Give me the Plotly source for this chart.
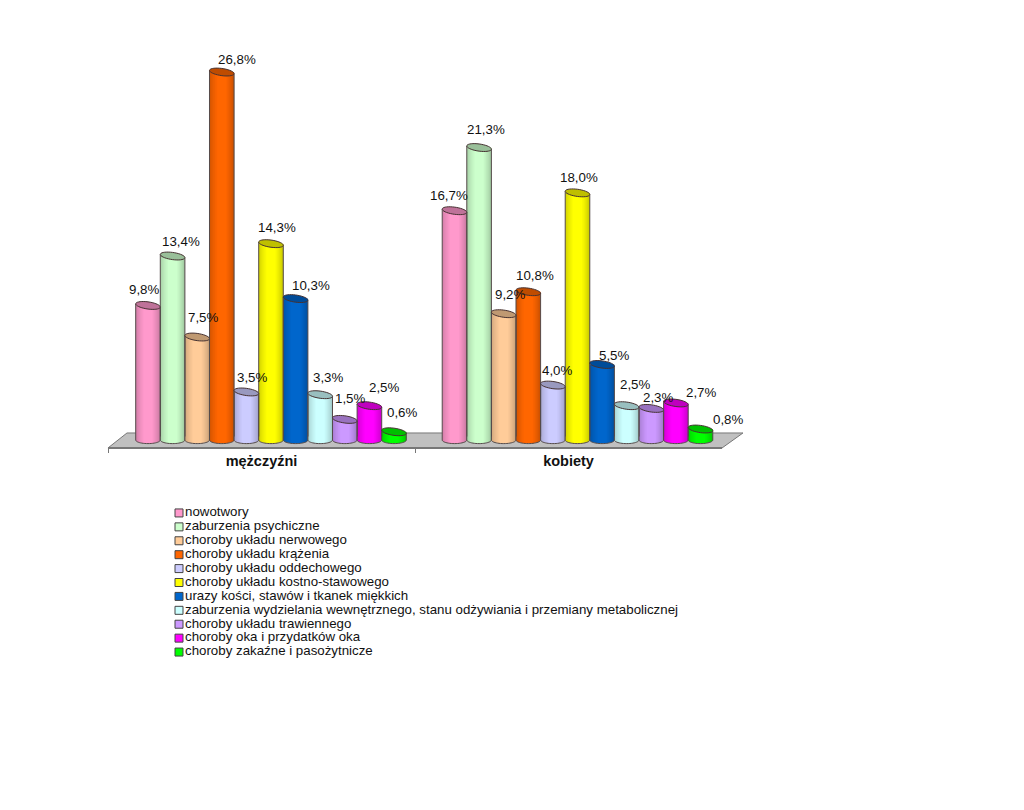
import numpy as np
import plotly.graph_objects as go

# data
groups = ["mężczyźni", "kobiety"]
diseases = [
    "nowotwory",
    "zaburzenia psychiczne",
    "choroby układu nerwowego",
    "choroby układu krążenia",
    "choroby układu oddechowego",
    "choroby układu kostno-stawowego",
    "urazy kości, stawów i tkanek miękkich",
    "zaburzenia wydzielania wewnętrznego, stanu odżywiania i przemiany metabolicznej",
    "choroby układu trawiennego",
    "choroby oka i przydatków oka",
    "choroby zakaźne i pasożytnicze",
]
men = [9.8, 13.4, 7.5, 26.8, 3.5, 14.3, 10.3, 3.3, 1.5, 2.5, 0.6]
women = [16.7, 21.3, 9.2, 10.8, 4.0, 18.0, 5.5, 2.5, 2.3, 2.7, 0.8]
colors = ["#FF99CC", "#CCFFCC", "#FFCC99", "#FF6600", "#CCCCFF", "#FFFF00",
          "#0066CC", "#CCFFFF", "#CC99FF", "#FF00FF", "#00FF00"]

# label nudges in pixels, from the bar centre / top
men_dx = [-4, 8, 6, 15, 6, 6, 15, 8, 5, 15, 8]
men_dy = [16, 15, 20, 13, 14, 16, 13, 17, 21, 18, 19]
women_dx = [-6, 7, 6, 7, 4, 1, 12, 8, 7, 25, 27]
women_dy = [15, 18, 19, 16, 15, 15, 9, 21, 11, 10, 10]

# the page body has an 8px margin, so the figure is 8px smaller and starts at (8, 8)
W, H = 1016, 802
PAGE = 8
FONT = "Liberation Sans"
PX_PER_UNIT = 13.73
GROUP_PITCH = 306.5
BAR_PX = 24.6
BASE_PY = 440
Y_MIN, Y_MAX = -1, 30
X_LEFT = 117.75
RX = BAR_PX / 2
RY = 3.6
TILT = 1.6

bar_w = BAR_PX / GROUP_PITCH


def xp(px):
    return (px - PAGE) / W


def yp(py):
    return 1 - (py - PAGE) / H


def dark(hex_color, k):
    r, g, b = [int(hex_color[i:i + 2], 16) for i in (1, 3, 5)]
    return f"rgb({int(r * k)},{int(g * k)},{int(b * k)})"


def path(xs, ys, close=True):
    pts = " L ".join(f"{x:.4f},{y:.4f}" for x, y in zip(xs, ys))
    return "M " + pts + (" Z" if close else "")


def shade(t):
    # black overlay across the cylinder: bright band in the middle, darker edges
    if t < 0.4:
        return 0.24 * (0.4 - t) / 0.4
    if t > 0.6:
        return 0.3 * (t - 0.6) / 0.4
    return 0.0


def cylinder(cx, value, color):
    out = []
    dx = RX / GROUP_PITCH
    dy = RY / PX_PER_UNIT
    tilt = TILT / PX_PER_UNIT
    a = np.linspace(0, np.pi, 25)
    # bottom cap
    bx = cx - dx * np.cos(a)
    by = -dy * np.sin(a)
    xs = list(bx) + [cx + dx, cx - dx]
    ys = list(by) + [dy, dy]
    out.append(dict(type="path", path=path(xs, ys), fillcolor=color, line=dict(width=0)))
    # shading strips
    n = 25
    edges = np.linspace(-1, 1, n + 1)
    for i in range(n):
        e0, e1 = edges[i], edges[i + 1]
        mid = (e0 + e1) / 2
        # angle-based position so that the edges fall off faster
        t = (np.arcsin(mid) / np.pi) + 0.5
        low = -dy * np.sqrt(1 - mid ** 2)
        top = value - tilt * mid
        out.append(dict(type="rect", x0=cx + dx * e0, x1=cx + dx * e1, y0=low, y1=top,
                        fillcolor=f"rgba(0,0,0,{shade(t):.3f})", line=dict(width=0)))
    # outline of side and bottom
    xs = [cx - dx] + list(bx) + [cx + dx]
    ys = [value + tilt] + list(by) + [value - tilt]
    out.append(dict(type="path", path=path(xs, ys, close=False),
                    line=dict(color="rgb(85,75,75)", width=1)))
    # top ellipse
    a = np.linspace(0, 2 * np.pi, 37)
    ex = cx + dx * np.cos(a)
    ey = value + dy * np.sin(a) - tilt * np.cos(a)
    out.append(dict(type="path", path=path(ex, ey), fillcolor=dark(color, 0.75),
                    line=dict(color="rgb(70,50,50)", width=1)))
    return out


fig = go.Figure()

# real bars, grouped by disease
for j, name in enumerate(diseases):
    fig.add_trace(go.Bar(x=groups, y=[men[j], women[j]], name=name, marker_color=colors[j],
                         marker_line_width=0, showlegend=False, hoverinfo="skip"))

# carries the front axis of the floor
fig.add_trace(go.Scatter(x=groups, y=[0, 0], xaxis="x2", mode="markers", opacity=0,
                         showlegend=False, hoverinfo="skip"))

# legend rows, packed tighter than the built-in legend allows
fig.add_trace(go.Scatter(x=[0] * len(diseases), y=diseases, xaxis="x3", yaxis="y3",
                         mode="markers+text", text=diseases, textposition="middle right",
                         textfont=dict(family=FONT, size=13.3, color="#111111"),
                         marker=dict(symbol="square", size=8, color=colors,
                                     line=dict(color="#444444", width=1)),
                         cliponaxis=False, showlegend=False, hoverinfo="skip"))

shapes = [dict(type="path", xref="paper", yref="paper", layer="below",
               path=path([xp(108), xp(127), xp(743), xp(722)],
                         [yp(448), yp(433), yp(433), yp(448)]),
               fillcolor="#C0C0C0", line=dict(color="#777777", width=1))]
annotations = []
for g, (vals, ldx, ldy) in enumerate([(men, men_dx, men_dy), (women, women_dx, women_dy)]):
    for j, v in enumerate(vals):
        cx = g + (j - 5) * bar_w
        shapes.extend(cylinder(cx, v, colors[j]))
        annotations.append(dict(x=cx, y=v, xref="x", yref="y", showarrow=False,
                                text=f"{v:.1f}%".replace(".", ","),
                                xshift=ldx[j], yshift=ldy[j],
                                font=dict(family=FONT, size=13.3, color="#111111")))

fig.update_layout(
    width=W, height=H, autosize=False,
    margin=dict(l=0, r=0, t=0, b=0),
    paper_bgcolor="white", plot_bgcolor="rgba(0,0,0,0)",
    barmode="group", bargap=1 - 11 * bar_w, bargroupgap=0,
    shapes=shapes, annotations=annotations,
    xaxis=dict(domain=[xp(X_LEFT), xp(X_LEFT + 2 * GROUP_PITCH)], type="category",
               range=[-0.5, 1.5], visible=False),
    yaxis=dict(domain=[yp(BASE_PY - Y_MIN * PX_PER_UNIT), yp(BASE_PY - Y_MAX * PX_PER_UNIT)],
               range=[Y_MIN, Y_MAX], visible=False),
    xaxis2=dict(domain=[xp(108), xp(722)], type="category", anchor="free", position=yp(448),
                range=[-0.5, 1.5], tickson="boundaries", ticks="outside",
                ticklen=4, tickcolor="#777777", showline=True, linecolor="#777777", linewidth=2,
                showgrid=False, tickfont=dict(family=FONT, size=14.5, color="#111111", weight=700)),
    xaxis3=dict(domain=[xp(179), xp(700)], range=[0, 1], visible=False),
    yaxis3=dict(domain=[yp(659), yp(506)], type="category", categoryorder="array",
                categoryarray=diseases, range=[10.5, -0.5], visible=False, anchor="x3"),
)

fig.write_html("out.html")
